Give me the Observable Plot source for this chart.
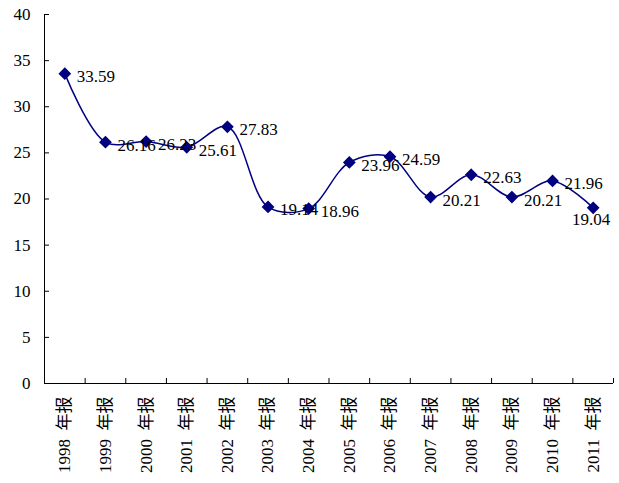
<!DOCTYPE html>
<html>
<head>
<meta charset="utf-8">
<script src="https://cdn.jsdelivr.net/npm/d3@7"></script>
<script src="https://cdn.jsdelivr.net/npm/@observablehq/plot@0.6"></script>
<style>
  body { margin: 0; background: #fff; }
</style>
</head>
<body>
<div id="chart"></div>
<script>
// Annual report values, one per year
const years = ["1998", "1999", "2000", "2001", "2002", "2003", "2004",
               "2005", "2006", "2007", "2008", "2009", "2010", "2011"];
const suffix = "年报";
const values = [33.59, 26.16, 26.23, 25.61, 27.83, 19.14, 18.96,
                23.96, 24.59, 20.21, 22.63, 20.21, 21.96, 19.04];
const yTicks = [0, 5, 10, 15, 20, 25, 30, 35, 40];

const data = years.map((year, i) => ({i, year, value: values[i]}));
const bounds = d3.range(-0.5, years.length, 1);
const last = data.length - 1;
const fmt = d => d.value.toFixed(2);

const chart = Plot.plot({
  width: 619,
  height: 483,
  marginLeft: 44,
  marginRight: 6,
  marginTop: 14,
  marginBottom: 100,
  style: {
    fontFamily: "'Liberation Serif', 'Noto Sans CJK SC', serif",
    fontSize: "17px",
    color: "#000",
    background: "#fff"
  },
  x: {type: "linear", domain: [-0.5, years.length - 0.5], label: null},
  y: {domain: [0, 40], label: null},
  marks: [
    Plot.ruleX([-0.5], {stroke: "#000"}),
    Plot.ruleY([0], {stroke: "#000"}),
    Plot.axisY({ticks: yTicks, tickSize: -5, tickFormat: () => ""}),
    Plot.axisY({ticks: yTicks, tickSize: 0, tickPadding: 14, fontSize: 17}),
    Plot.axisX({ticks: bounds, tickSize: -5, tickFormat: () => ""}),
    Plot.axisX({
      ticks: d3.range(years.length),
      tickSize: 0,
      tickPadding: 13,
      tickRotate: -90,
      fontSize: 17,
      tickFormat: i => `${years[i]}\u2002${suffix}`
    }),
    Plot.line(data, {x: "i", y: "value", curve: "catmull-rom", stroke: "#000080", strokeWidth: 1.5}),
    Plot.dot(data, {x: "i", y: "value", symbol: "diamond2", r: 4.8, fill: "#000080", stroke: "#000080"}),
    Plot.text(data.filter(d => d.i !== last), {
      x: "i", y: "value", text: fmt, textAnchor: "start", dx: 12, dy: 3, fill: "#000", fontSize: 17
    }),
    Plot.text(data.filter(d => d.i === last), {
      x: "i", y: "value", text: fmt, textAnchor: "middle", dx: -2, dy: 12, fill: "#000", fontSize: 17
    })
  ]
});

document.getElementById("chart").append(chart);
</script>
</body>
</html>
